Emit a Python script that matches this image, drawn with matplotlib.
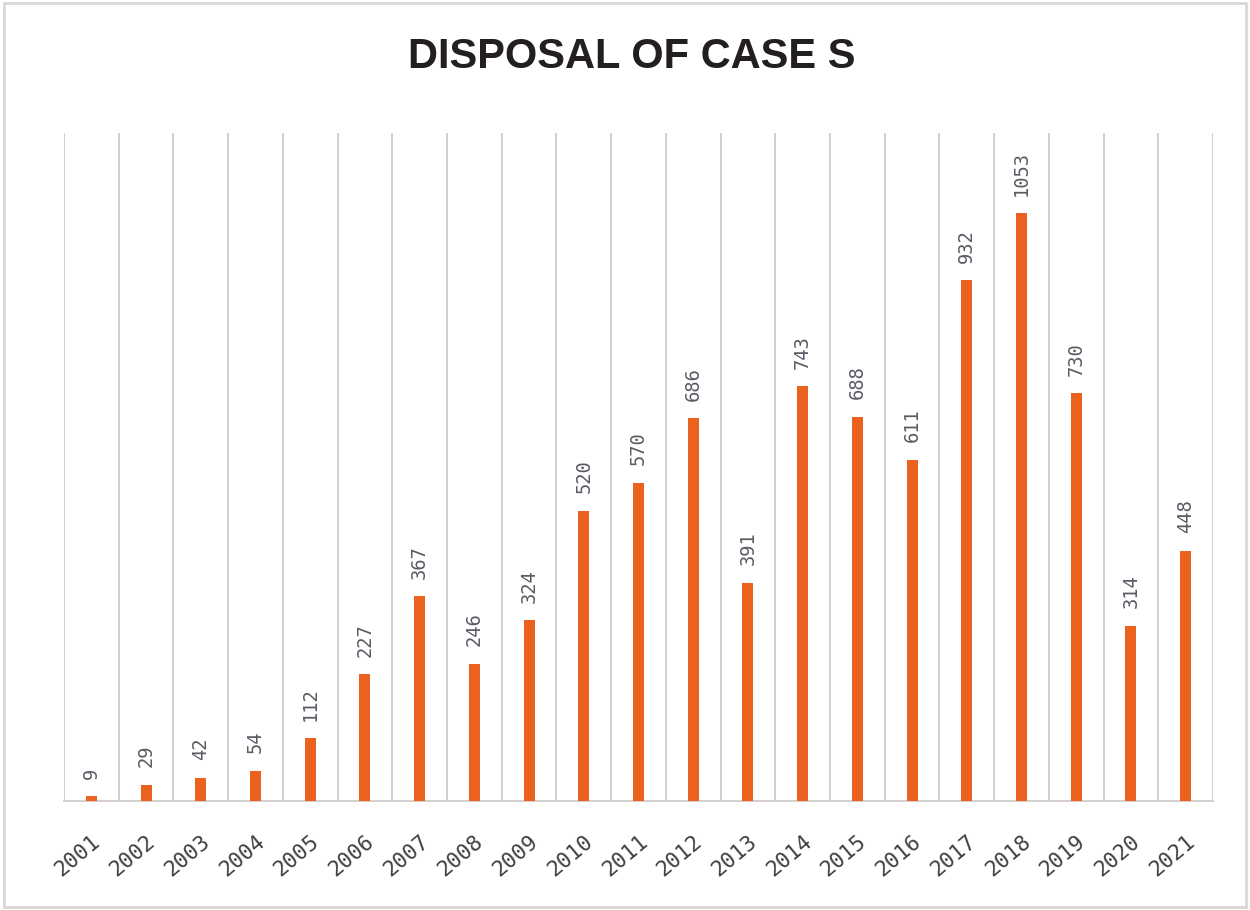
import matplotlib.pyplot as plt
from matplotlib.patches import Rectangle
from matplotlib.ticker import FixedLocator

# data
years = ['2001', '2002', '2003', '2004', '2005', '2006', '2007', '2008', '2009', '2010', '2011',
         '2012', '2013', '2014', '2015', '2016', '2017', '2018', '2019', '2020', '2021']
cases = [9, 29, 42, 54, 112, 227, 367, 246, 324, 520, 570,
         686, 391, 743, 688, 611, 932, 1053, 730, 314, 448]

if __name__ == '__main__':
    fig = plt.figure(figsize=(12.5, 9.1), dpi=100)
    ax = fig.add_axes([0.0512, 0.1198, 0.9192, 0.734])

    x = list(range(len(years)))
    ax.bar(x, cases, width=0.2, color='#EB621E', zorder=3)

    # value labels above bars, rotated
    for xi, v in zip(x, cases):
        ax.annotate(str(v), (xi, v), xytext=(0, 12.5), textcoords='offset points',
                    rotation=90, ha='center', va='bottom', fontsize=13.5,
                    family='DejaVu Sans Mono', color='#5b5b66')

    ax.set_xlim(-0.5, len(years) - 0.5)
    ax.set_ylim(0, 1196)
    ax.set_yticks([])

    # vertical lines at the category boundaries
    ax.xaxis.set_minor_locator(FixedLocator([i - 0.5 for i in range(len(years) + 1)]))
    ax.grid(which='minor', axis='x', color='#d3cfcf', linewidth=1.4, zorder=0)
    ax.tick_params(which='minor', length=0)

    ax.set_xticks(x)
    ax.set_xticklabels(years, rotation=40, ha='right', rotation_mode='anchor',
                       fontsize=15.5, family='DejaVu Sans Mono', color='#3f3f3f')
    ax.tick_params(axis='x', which='major', length=0, pad=22)

    for side in ['top', 'left', 'right']:
        ax.spines[side].set_visible(False)
    ax.spines['bottom'].set_color('#d3cfcf')
    ax.spines['bottom'].set_linewidth(1.4)

    fig.text(0.505, 0.937, 'DISPOSAL OF CASE S', ha='center', va='center',
             fontsize=30, fontweight='bold', family='Liberation Sans', color='#231f20')

    # light frame around the whole picture
    fig.patches.append(Rectangle((0.003, 0.003), 0.994, 0.994, transform=fig.transFigure,
                                 fill=False, edgecolor='#d9d6d6', linewidth=2))

    fig.savefig('out.png', dpi=100, facecolor='white')
